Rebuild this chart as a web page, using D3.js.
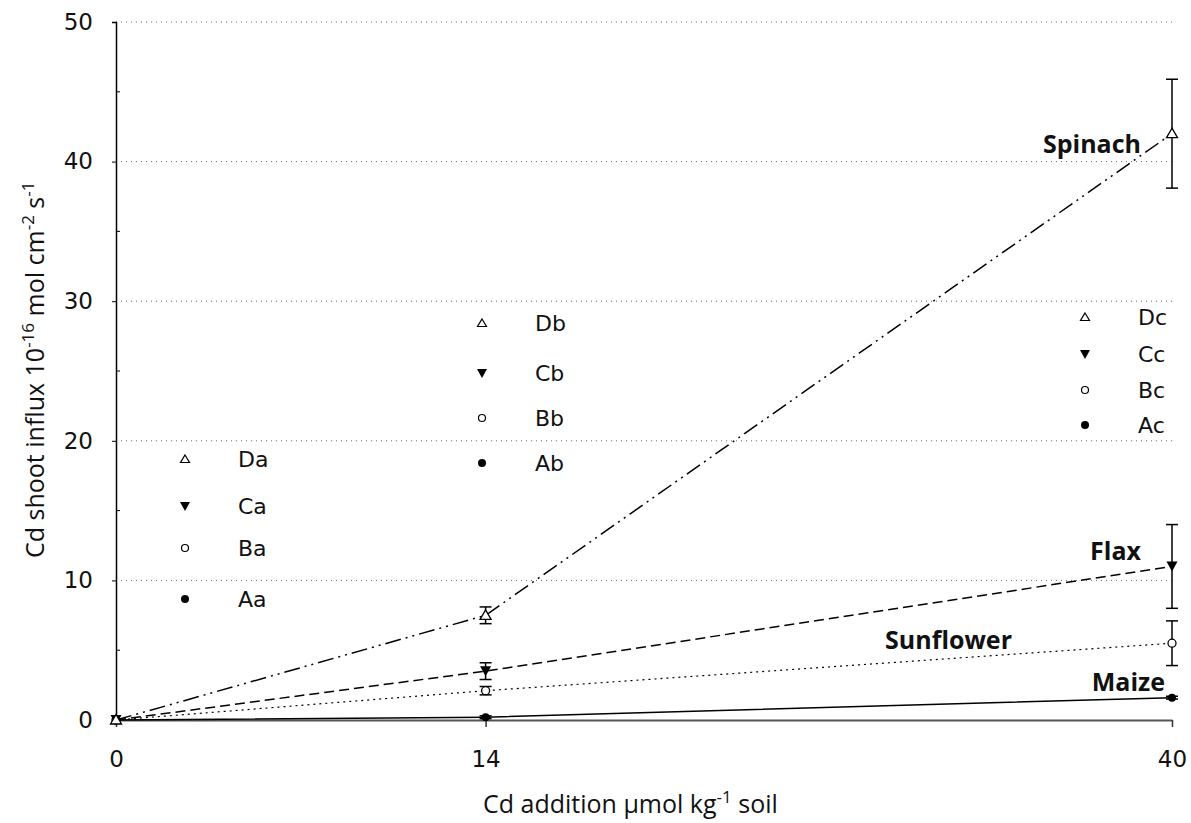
<!DOCTYPE html>
<html><head><meta charset="utf-8">
<script src="https://cdn.jsdelivr.net/npm/d3@7"></script>
<style>body{margin:0;background:#fff}svg{display:block}text{font-family:"Open Sans","Noto Sans",sans-serif;fill:#111}</style>
</head><body><div id="c"></div>
<script>
// ---- data ----
const xValues = [0, 14, 40];
const xTickLabels = ["0", "14", "40"];
const yTicks = [0, 10, 20, 30, 40, 50];
const crops = ["Maize", "Sunflower", "Flax", "Spinach"];
const maizeVals = [0, 0.2, 1.6];
const maizeErr = [0, 0.1, 0.1];
const sunflowerVals = [0, 2.1, 5.5];
const sunflowerErr = [0, 0.3, 1.6];
const flaxVals = [0, 3.5, 11.0];
const flaxErr = [0, 0.6, 3.0];
const spinachVals = [0, 7.5, 42.0];
const spinachErr = [0, 0.6, 3.9];
const letterRows = [
  ["Da", "Ca", "Ba", "Aa"],
  ["Db", "Cb", "Bb", "Ab"],
  ["Dc", "Cc", "Bc", "Ac"]
];

// ---- layout ----
const W = 1191, H = 823;
const m = {l: 116, r: 19, t: 22, b: 103};
const svg = d3.select("#c").append("svg").attr("width", W).attr("height", H);
const x = d3.scaleLinear().domain([0, 40]).range([m.l, W - m.r]);
const y = d3.scaleLinear().domain([0, 50]).range([H - m.b, m.t]);
const numFont = "'DejaVu Sans', Verdana, sans-serif";

// grid
svg.append("g").selectAll("line").data(yTicks.filter(d => d > 0)).join("line")
  .attr("x1", x(0)).attr("x2", x(40)).attr("y1", d => y(d)).attr("y2", d => y(d))
  .attr("stroke", "#666").attr("stroke-width", 1).attr("stroke-dasharray", "1,4");

// y axis
const yAxis = d3.axisLeft(y).tickValues(yTicks).tickSize(4).tickPadding(19);
const gy = svg.append("g").attr("transform", `translate(${m.l},0)`).call(yAxis);
gy.select(".domain").attr("stroke", "#000").attr("stroke-width", 1.5);
gy.selectAll("text").style("font-size", "23px").style("font-family", numFont).attr("fill", "#111");
// minor ticks inward
svg.append("g").selectAll("line").data([5, 15, 25, 35, 45]).join("line")
  .attr("x1", m.l).attr("x2", m.l + 4).attr("y1", d => y(d)).attr("y2", d => y(d))
  .attr("stroke", "#000").attr("stroke-width", 1);

// x axis
const xAxis = d3.axisBottom(x).tickValues(xValues).tickFormat((d, i) => xTickLabels[i]).tickSize(7).tickSizeOuter(0).tickPadding(24);
const gx = svg.append("g").attr("transform", `translate(0,${y(0)})`).call(xAxis);
gx.select(".domain").attr("stroke", "#555").attr("stroke-width", 2);
gx.selectAll(".tick line").attr("stroke", "#333").attr("stroke-width", 1.5);
gx.selectAll("text").style("font-size", "23px").style("font-family", numFont).attr("fill", "#111");

// axis titles
const yt = svg.append("text").attr("transform", `translate(44,558) rotate(-90)`)
  .attr("text-anchor", "start").style("font-size", "25px");
yt.append("tspan").text("Cd shoot influx 10");
yt.append("tspan").attr("dy", -10).style("font-size", "17px").text("-16");
yt.append("tspan").attr("dy", 10).text(" mol cm");
yt.append("tspan").attr("dy", -10).style("font-size", "17px").text("-2");
yt.append("tspan").attr("dy", 10).text(" s");
yt.append("tspan").attr("dy", -10).style("font-size", "17px").text("-1");

const xt = svg.append("text").attr("x", 483).attr("y", 813).attr("text-anchor", "start").style("font-size", "25px");
xt.append("tspan").text("Cd addition \u00b5mol kg");
xt.append("tspan").attr("dy", -10).style("font-size", "17px").text("-1");
xt.append("tspan").attr("dy", 10).text(" soil");

// series
const series = [
  {name: "Maize", vals: maizeVals, err: maizeErr, dash: null, sym: "fcircle", lab: [1165, 691, "end"]},
  {name: "Sunflower", vals: sunflowerVals, err: sunflowerErr, dash: "2,4", sym: "ocircle", lab: [1012, 649, "end"]},
  {name: "Flax", vals: flaxVals, err: flaxErr, dash: "10,5", sym: "dtri", lab: [1141, 560, "end"]},
  {name: "Spinach", vals: spinachVals, err: spinachErr, dash: "16,5,2,5,2,5", sym: "otri", lab: [1141, 153, "end"]}
];
const line = d3.line().x(d => x(d[0])).y(d => y(d[1]));

function drawSym(g, type, cx, cy) {
  if (type === "fcircle") g.append("circle").attr("cx", cx).attr("cy", cy).attr("r", 4).attr("fill", "#000");
  else if (type === "ocircle") g.append("circle").attr("cx", cx).attr("cy", cy).attr("r", 4).attr("fill", "#fff").attr("stroke", "#000").attr("stroke-width", 1.3);
  else if (type === "dtri") g.append("path").attr("d", `M${cx - 5.5},${cy - 5}L${cx + 5.5},${cy - 5}L${cx},${cy + 5}Z`).attr("fill", "#000");
  else if (type === "otri") g.append("path").attr("d", `M${cx},${cy - 5.5}L${cx + 5.5},${cy + 4}L${cx - 5.5},${cy + 4}Z`).attr("fill", "#fff").attr("stroke", "#000").attr("stroke-width", 1.3);
}

series.forEach(s => {
  const pts = xValues.map((xv, i) => [xv, s.vals[i]]);
  svg.append("path").attr("d", line(pts)).attr("fill", "none").attr("stroke", "#000")
    .attr("stroke-width", s.name === "Sunflower" ? 1.2 : 1.5).attr("stroke-dasharray", s.dash);
  const g = svg.append("g");
  pts.forEach((p, i) => {
    const e = s.err[i];
    if (e > 0) {
      const cx = x(p[0]);
      g.append("line").attr("x1", cx).attr("x2", cx).attr("y1", y(p[1] - e)).attr("y2", y(p[1] + e)).attr("stroke", "#000").attr("stroke-width", 1.5);
      [p[1] - e, p[1] + e].forEach(v => g.append("line").attr("x1", cx - 6).attr("x2", cx + 6).attr("y1", y(v)).attr("y2", y(v)).attr("stroke", "#000").attr("stroke-width", 1.5));
    }
    drawSym(g, s.sym, x(p[0]), y(p[1]));
  });
  svg.append("text").attr("x", s.lab[0]).attr("y", s.lab[1]).attr("text-anchor", s.lab[2])
    .style("font-size", "25px").style("font-weight", "bold").text(s.name);
});

// letter annotations
const symOrder = ["otri", "dtri", "ocircle", "fcircle"];
const groupPos = [
  {mx: 185, tx: 238, ys: [459, 506, 548, 599]},
  {mx: 482, tx: 535, ys: [323, 373, 418, 463]},
  {mx: 1085, tx: 1138, ys: [317, 354, 390, 425]}
];
letterRows.forEach((row, gi) => {
  const gp = groupPos[gi];
  const g = svg.append("g");
  row.forEach((lab, j) => {
    const sy = gp.ys[j];
    const sc = symOrder[j];
    if (sc === "otri") g.append("path").attr("d", `M${gp.mx},${sy - 4}L${gp.mx + 4.5},${sy + 3.5}L${gp.mx - 4.5},${sy + 3.5}Z`).attr("fill", "#fff").attr("stroke", "#000").attr("stroke-width", 1.2);
    else if (sc === "dtri") g.append("path").attr("d", `M${gp.mx - 5},${sy - 4}L${gp.mx + 5},${sy - 4}L${gp.mx},${sy + 5}Z`).attr("fill", "#000");
    else if (sc === "ocircle") g.append("circle").attr("cx", gp.mx).attr("cy", sy).attr("r", 3.5).attr("fill", "#fff").attr("stroke", "#000").attr("stroke-width", 1.2);
    else g.append("circle").attr("cx", gp.mx).attr("cy", sy).attr("r", 4).attr("fill", "#000");
    g.append("text").attr("x", gp.tx).attr("y", sy + 8).style("font-size", "22px").style("font-family", numFont).text(lab);
  });
});
</script></body></html>
